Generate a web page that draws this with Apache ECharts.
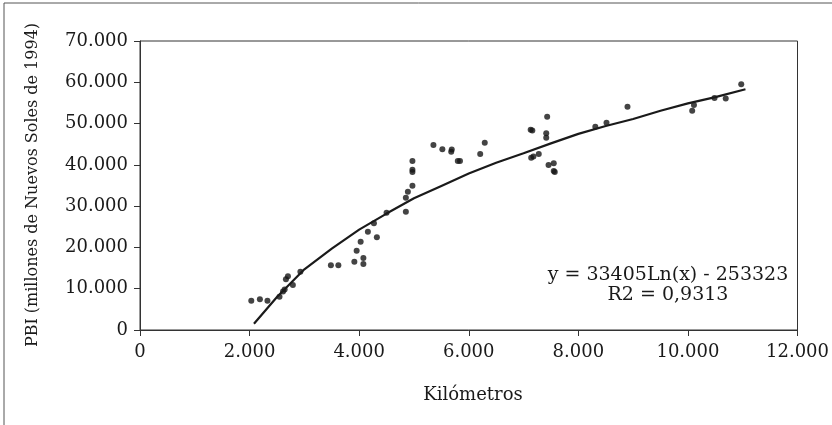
<!DOCTYPE html>
<html><head><meta charset="utf-8">
<script src="https://cdn.jsdelivr.net/npm/echarts@6/dist/echarts.min.js"></script>
<style>html,body{margin:0;padding:0;background:#fff}#c{width:832px;height:425px}</style>
</head><body><div id="c"></div>
<script>
// Data
const kmValues = [2031,2188,2326,2546,2610,2640,2663,2700,2790,2927,3484,3620,3912,3954,4027,4077,4077,4159,4269,4323,4500,4852,4852,4889,4972,4972,4972,4972,5355,5518,5680,5690,5800,5840,6209,6292,7130,7160,7140,7180,7278,7431,7414,7414,7456,7551,7551,7570,8310,8514,8897,10078,10110,10485,10690,10973];
const pbiValues = [7100,7430,7100,8070,9300,9800,12300,13000,10900,14120,15670,15670,16540,19210,21390,17440,16000,23800,25840,22450,28410,28650,32040,33500,34950,38300,38800,40930,44800,43760,43200,43700,40930,40930,42630,45370,48500,48300,41700,42000,42630,51660,47640,46580,39960,40370,38510,38300,49240,50210,54090,53120,54500,56200,56100,59500];
const trendKm = [2080,2500,3000,3500,4000,4500,5000,5500,6000,6500,7000,7500,8000,8500,9000,9500,10000,10500,11050];
const trendPbi = [1500,8000,14700,19700,24300,28200,31900,34900,37900,40500,42800,45200,47500,49400,51100,53100,54900,56400,58300];
const xTicks = [0,2000,4000,6000,8000,10000,12000];
const yTicks = [0,10000,20000,30000,40000,50000,60000,70000];
const equationLines = ['y = 33405Ln(x) - 253323', 'R2 = 0,9313'];
const xTitle = 'Kilómetros';
const yTitle = 'PBI (millones de Nuevos Soles de 1994)';

const fmt = v => v === 0 ? '0' : Math.round(v).toString().replace(/\B(?=(\d{3})+(?!\d))/g, '.');
const font = 'DejaVu Serif';
const ink = '#1a1a1a';

const chart = echarts.init(document.getElementById('c'), null, {renderer:'canvas'});
chart.setOption({
  animation:false,
  backgroundColor:'#fff',
  grid:{left:140,right:34,top:41,bottom:95,show:true,borderColor:'#333',borderWidth:1,backgroundColor:'transparent'},
  xAxis:{type:'value',min:xTicks[0],max:xTicks[xTicks.length-1],interval:2000,
    axisLine:{lineStyle:{color:'#333',width:1}},
    axisTick:{show:true,length:6,lineStyle:{color:'#333'}},
    splitLine:{show:false},
    axisLabel:{formatter:fmt,fontFamily:font,fontSize:18,color:ink,margin:13}},
  yAxis:{type:'value',min:yTicks[0],max:yTicks[yTicks.length-1],interval:10000,
    axisLine:{show:true,lineStyle:{color:'#333',width:1}},
    axisTick:{show:true,length:6,lineStyle:{color:'#333'}},
    splitLine:{show:false},
    axisLabel:{formatter:fmt,fontFamily:font,fontSize:18,color:ink,margin:12}},
  series:[
    {type:'scatter',data:kmValues.map((x,i)=>[x,pbiValues[i]]),symbol:'circle',symbolSize:6,
     itemStyle:{color:'#151515'},z:3},
    {type:'line',data:trendKm.map((x,i)=>[x,trendPbi[i]]),showSymbol:false,smooth:false,
     lineStyle:{color:ink,width:2.2},z:4}
  ],
  graphic:[
    {type:'rect',shape:{x:4,y:3,width:860,height:460},style:{fill:'none',stroke:'#555',lineWidth:1},silent:true},
    {type:'text',x:473,y:395,style:{text:xTitle,font:'18px "DejaVu Serif"',fill:ink,textAlign:'center',textVerticalAlign:'middle'}},
    {type:'text',x:33,y:185,rotation:Math.PI/2,style:{text:yTitle,font:'16px "DejaVu Serif"',fill:ink,textAlign:'center',textVerticalAlign:'middle'}},
    {type:'text',x:668,y:275,style:{text:equationLines[0],font:'19px "DejaVu Serif"',fill:ink,textAlign:'center',textVerticalAlign:'middle'}},
    {type:'text',x:668,y:295,style:{text:equationLines[1],font:'19px "DejaVu Serif"',fill:ink,textAlign:'center',textVerticalAlign:'middle'}}
  ]
});
</script></body></html>
